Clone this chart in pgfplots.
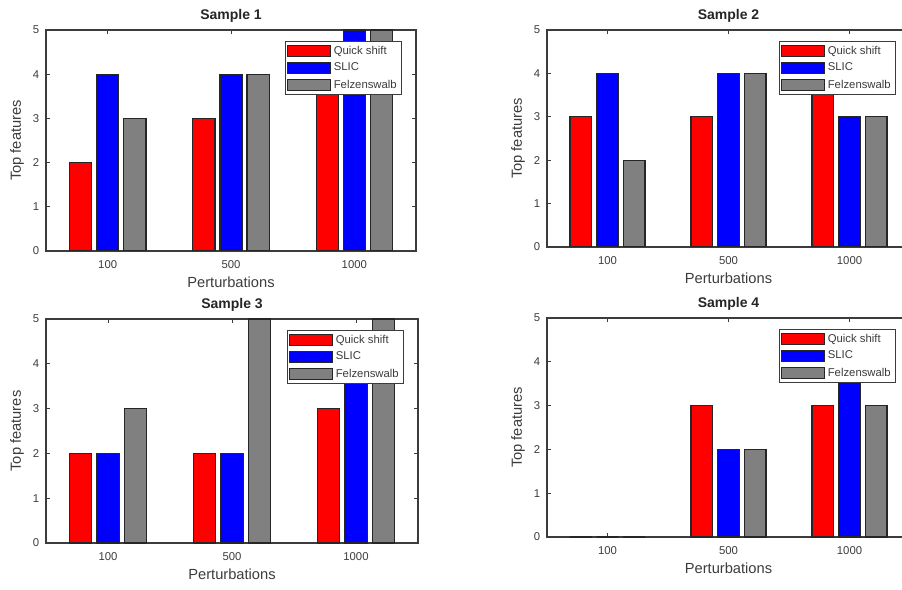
\documentclass[border=0pt]{standalone}
\usepackage{fontspec}
\setmainfont{Liberation Sans}
\usepackage{pgfplots}
\pgfplotsset{compat=1.18}

\definecolor{qsred}{RGB}{255,0,0}
\definecolor{slicblue}{RGB}{0,0,255}
\definecolor{fzgray}{RGB}{128,128,128}
\definecolor{axgray}{RGB}{60,60,60}

% one pixel of the reference = 0.75pt
\pgfplotsset{
  sample/.style={
    scale only axis,
    xmin=0.5, xmax=3.5, ymin=0, ymax=5,
    xtick={1,2,3}, xticklabels={100,500,1000},
    ytick={0,1,2,3,4,5},
    tick align=inside, tick pos=both,
    major tick length=3pt,
    axis line style={axgray, line width=0.8pt},
    every tick/.style={axgray, line width=0.6pt},
    /pgf/number format/assume math mode=true,
    tick label style={font=\fontsize{8.5}{10}\selectfont, text=axgray},
    xticklabel style={yshift=-4pt},
    yticklabel style={xshift=-1.5pt},
    label style={font=\fontsize{11}{13}\selectfont, text=axgray},
    xlabel style={yshift=1pt},
    title style={font=\fontsize{10.5}{12}\selectfont\bfseries, text=black!85, yshift=-4pt},
    xlabel={Perturbations}, ylabel={Top features},
    legend cell align=left,
    legend style={at={(1,1)}, anchor=north east, xshift=-10.5pt, yshift=-8pt,
      draw=axgray, line width=0.8pt, font=\fontsize{8.5}{9}\selectfont,
      inner sep=1.5pt, row sep=1.2pt, text=axgray},
  },
  barbase/.style={ybar, bar width=0.18, draw=black!85, line width=0.9pt,
    legend image code/.code={\draw[##1, line width=0.8pt] (0pt,-4pt) rectangle (32pt,4pt);}},
  qs/.style={barbase, bar shift=-0.22, fill=qsred},
  sl/.style={barbase, bar shift=0, fill=slicblue},
  fz/.style={barbase, bar shift=0.22, fill=fzgray},
}

\begin{document}
\begin{tikzpicture}
% Sample 1
\begin{axis}[sample, at={(34.5pt,253.5pt)}, anchor=south west,
  width=277.5pt, height=165.75pt, title={Sample 1}]
\addplot[qs] coordinates {(1,2) (2,3) (3,4)};
\addplot[sl] coordinates {(1,4) (2,4) (3,5)};
\addplot[fz] coordinates {(1,3) (2,4) (3,5)};
\legend{Quick shift, SLIC, Felzenswalb}
\end{axis}
% Sample 2
\begin{axis}[sample, at={(410.25pt,256.5pt)}, anchor=south west,
  width=272.25pt, height=162.75pt, title={Sample 2}]
\addplot[qs] coordinates {(1,3) (2,3) (3,4)};
\addplot[sl] coordinates {(1,4) (2,4) (3,3)};
\addplot[fz] coordinates {(1,2) (2,4) (3,3)};
\legend{Quick shift, SLIC, Felzenswalb}
\end{axis}
% Sample 3
\begin{axis}[sample, at={(34.5pt,34.5pt)}, anchor=south west,
  width=279pt, height=168pt, title={Sample 3}]
\addplot[qs] coordinates {(1,2) (2,2) (3,3)};
\addplot[sl] coordinates {(1,2) (2,2) (3,4)};
\addplot[fz] coordinates {(1,3) (2,5) (3,5)};
\legend{Quick shift, SLIC, Felzenswalb}
\end{axis}
% Sample 4
\begin{axis}[sample, at={(410.25pt,39pt)}, anchor=south west,
  width=272.25pt, height=164.25pt, title={Sample 4}]
\addplot[qs] coordinates {(1,0) (2,3) (3,3)};
\addplot[sl] coordinates {(1,0) (2,2) (3,4)};
\addplot[fz] coordinates {(1,0) (2,2) (3,3)};
\legend{Quick shift, SLIC, Felzenswalb}
\end{axis}
\pgfresetboundingbox
\path[use as bounding box] (0,0) rectangle (676.5pt,441.75pt);
\end{tikzpicture}
\end{document}
